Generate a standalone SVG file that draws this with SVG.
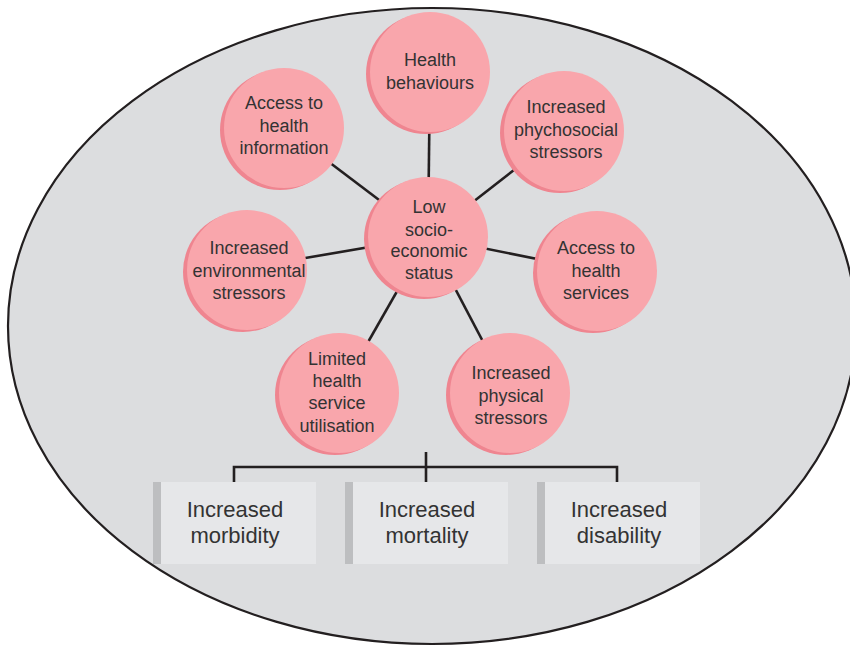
<svg xmlns="http://www.w3.org/2000/svg" width="850" height="646" viewBox="0 0 850 646">
<style>
.bg{fill:#dcdddf;stroke:#231f20;stroke-width:2.2}
.sh{fill:#ef8590}
.fc{fill:#f9a6ac}
.lbl{font-family:"Liberation Sans",Arial,sans-serif;font-size:18px;fill:#333333;text-anchor:middle}
.blbl{font-family:"Liberation Sans",Arial,sans-serif;font-size:22px;fill:#333333;text-anchor:middle}
.con{stroke:#231f20;stroke-width:2.6;fill:none}
.box{fill:#e6e7e9}
.bar{fill:#bdbec0}
</style>
<rect width="850" height="646" fill="#ffffff"/>
<ellipse class="bg" cx="432" cy="326" rx="424" ry="318"/>
<g id="connectors">
<line class="con" x1="428" y1="237" x2="430" y2="72"/>
<line class="con" x1="428" y1="237" x2="284" y2="128"/>
<line class="con" x1="428" y1="237" x2="564" y2="131"/>
<line class="con" x1="428" y1="237" x2="247" y2="268"/>
<line class="con" x1="428" y1="237" x2="597" y2="271"/>
<line class="con" x1="428" y1="237" x2="339" y2="393"/>
<line class="con" x1="428" y1="237" x2="510" y2="393"/>
<polyline class="con" points="234,482 234,467 617,467 617,482"/>
<line class="con" x1="426" y1="452" x2="426" y2="482"/>
</g>
<g id="health-behaviours">
<circle class="sh" cx="426" cy="74" r="60"/>
<circle class="fc" cx="430" cy="72" r="60"/>
<text class="lbl" x="430" y="66">Health</text>
<text class="lbl" x="430" y="89">behaviours</text>
</g>
<g id="access-info">
<circle class="sh" cx="280" cy="130" r="60"/>
<circle class="fc" cx="284" cy="128" r="60"/>
<text class="lbl" x="284" y="109">Access to</text>
<text class="lbl" x="284" y="132">health</text>
<text class="lbl" x="284" y="154">information</text>
</g>
<g id="psychosocial">
<circle class="sh" cx="560" cy="133" r="60"/>
<circle class="fc" cx="564" cy="131" r="60"/>
<text class="lbl" x="566" y="113">Increased</text>
<text class="lbl" x="566" y="136">phychosocial</text>
<text class="lbl" x="566" y="158">stressors</text>
</g>
<g id="low-ses">
<circle class="sh" cx="424" cy="239" r="60"/>
<circle class="fc" cx="428" cy="237" r="60"/>
<text class="lbl" x="429" y="213">Low</text>
<text class="lbl" x="429" y="236">socio-</text>
<text class="lbl" x="429" y="257">economic</text>
<text class="lbl" x="429" y="279">status</text>
</g>
<g id="environmental">
<circle class="sh" cx="243" cy="272" r="60"/>
<circle class="fc" cx="247" cy="270" r="60"/>
<text class="lbl" x="249" y="254">Increased</text>
<text class="lbl" x="249" y="277">environmental</text>
<text class="lbl" x="249" y="299">stressors</text>
</g>
<g id="access-services">
<circle class="sh" cx="593" cy="273" r="60"/>
<circle class="fc" cx="597" cy="271" r="60"/>
<text class="lbl" x="596" y="254">Access to</text>
<text class="lbl" x="596" y="277">health</text>
<text class="lbl" x="596" y="299">services</text>
</g>
<g id="limited-utilisation">
<circle class="sh" cx="335" cy="395" r="60"/>
<circle class="fc" cx="339" cy="393" r="60"/>
<text class="lbl" x="337" y="365">Limited</text>
<text class="lbl" x="337" y="387">health</text>
<text class="lbl" x="337" y="409">service</text>
<text class="lbl" x="337" y="432">utilisation</text>
</g>
<g id="physical">
<circle class="sh" cx="506" cy="395" r="60"/>
<circle class="fc" cx="510" cy="393" r="60"/>
<text class="lbl" x="511" y="379">Increased</text>
<text class="lbl" x="511" y="402">physical</text>
<text class="lbl" x="511" y="424">stressors</text>
</g>
<g id="morbidity">
<rect class="box" x="153" y="482" width="163" height="82"/>
<rect class="bar" x="153" y="482" width="8" height="82"/>
<text class="blbl" x="235" y="517">Increased</text>
<text class="blbl" x="235" y="543">morbidity</text>
</g>
<g id="mortality">
<rect class="box" x="345" y="482" width="163" height="82"/>
<rect class="bar" x="345" y="482" width="8" height="82"/>
<text class="blbl" x="427" y="517">Increased</text>
<text class="blbl" x="427" y="543">mortality</text>
</g>
<g id="disability">
<rect class="box" x="537" y="482" width="163" height="82"/>
<rect class="bar" x="537" y="482" width="8" height="82"/>
<text class="blbl" x="619" y="517">Increased</text>
<text class="blbl" x="619" y="543">disability</text>
</g>
</svg>
